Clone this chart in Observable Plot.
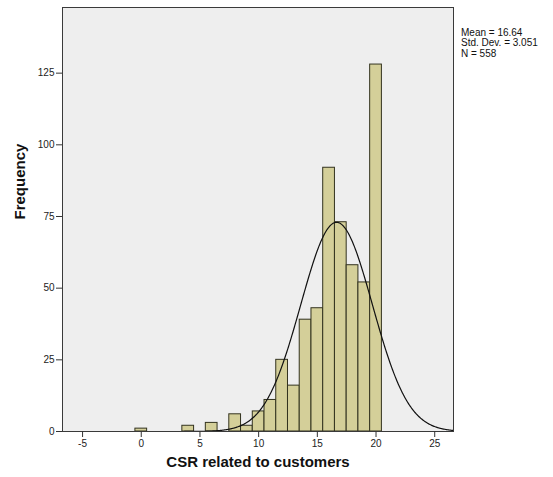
<!DOCTYPE html>
<html>
<head>
<meta charset="utf-8">
<script src="https://cdn.jsdelivr.net/npm/d3@7"></script>
<script src="https://cdn.jsdelivr.net/npm/@observablehq/plot@0.6"></script>
<style>
  body { margin: 0; background: #fff; }
  #chart svg { display: block; }
</style>
</head>
<body>
<div id="chart"></div>
<script>
// Score frequencies (bins of width 1 centred on each integer score)
const scores = [0, 4, 6, 8, 9, 10, 11, 12, 13, 14, 15, 16, 17, 18, 19, 20];
const counts = [1, 2, 3, 6, 2, 7, 11, 25, 16, 39, 43, 92, 73, 58, 52, 128];

// Summary statistics shown beside the histogram
const mean = 16.64;
const stdDev = 3.051;
const total = 558;
const statLabels = [`Mean = ${mean}`, `Std. Dev. = ${stdDev}`, `N = ${total}`];

const xTicks = [-5, 0, 5, 10, 15, 20, 25];
const yTicks = [0, 25, 50, 75, 100, 125];
const xDomain = [-6.71, 26.6];
const yDomain = [0, 147.9];
const binWidth = 1;

const bins = scores.map((s, i) => ({score: s, count: counts[i]}));

// Fitted normal curve, scaled to the histogram (N × bin width)
const curve = d3.range(xDomain[0], xDomain[1] + 0.001, 0.05).map(x => ({
  x,
  y: total * binWidth * Math.exp(-0.5 * ((x - mean) / stdDev) ** 2) / (stdDev * Math.sqrt(2 * Math.PI))
}));

const chart = Plot.plot({
  width: 553,
  height: 477,
  marginLeft: 62,
  marginRight: 100,
  marginTop: 7,
  marginBottom: 46,
  style: {
    fontFamily: "'Liberation Sans', Arial, sans-serif",
    fontSize: "10px",
    color: "#222",
    background: "#fff"
  },
  x: {domain: xDomain},
  y: {domain: yDomain},
  marks: [
    Plot.frame({fill: "#eeeeee"}),
    Plot.rectY(bins, {
      x1: d => d.score - binWidth / 2,
      x2: d => d.score + binWidth / 2,
      y: "count",
      fill: "#d4cf99",
      stroke: "#33331f",
      strokeWidth: 1
    }),
    Plot.line(curve, {x: "x", y: "y", stroke: "#111", strokeWidth: 1.2}),
    Plot.frame({stroke: "#3a3a3a", strokeWidth: 1}),
    Plot.axisX(xTicks, {tickSize: 6, tickPadding: 2, label: null, stroke: "#333", tickFormat: d => String(d)}),
    Plot.axisY(yTicks, {tickSize: 6, tickPadding: 2, label: null, stroke: "#333"}),
    Plot.text(["CSR related to customers"], {
      frameAnchor: "bottom", dy: 35, fontSize: 15, fontWeight: "bold", fill: "#111"
    }),
    Plot.text(["Frequency"], {
      frameAnchor: "left", dx: -42, rotate: -90, fontSize: 15, fontWeight: "bold", fill: "#111"
    }),
    Plot.text([statLabels.join("\n")], {
      frameAnchor: "top-right", textAnchor: "start", lineAnchor: "top",
      dx: 7.5, dy: 21, lineHeight: 1.05, fontSize: 10, fill: "#111"
    })
  ]
});

document.getElementById("chart").appendChild(chart);
</script>
</body>
</html>
